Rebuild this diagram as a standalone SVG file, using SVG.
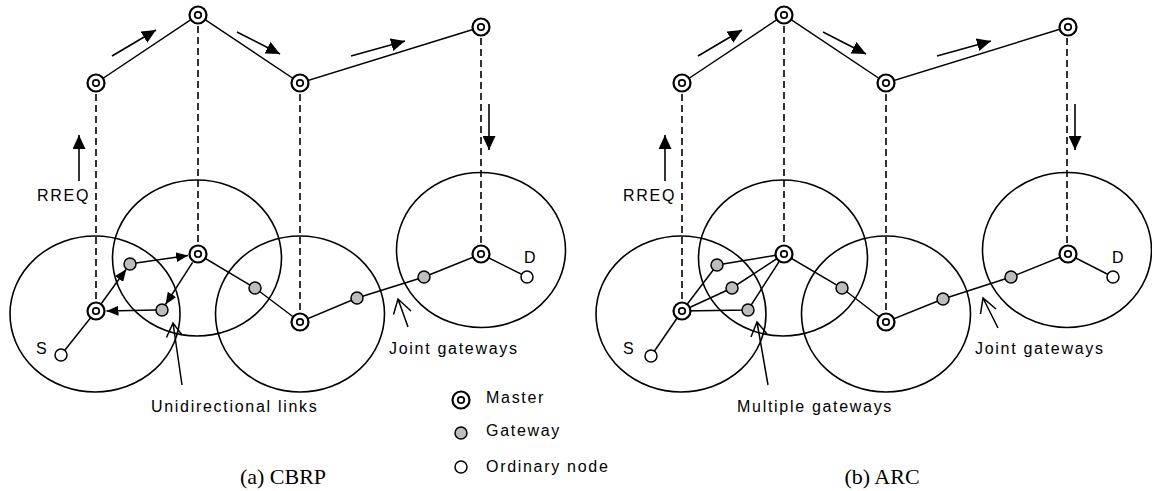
<svg xmlns="http://www.w3.org/2000/svg" width="1152" height="491" viewBox="0 0 1152 491">
<style>
.e{stroke:#000;stroke-width:1.5;fill:none}
.d{stroke:#000;stroke-width:1.6;stroke-dasharray:7 4;fill:none}
.c{stroke:#000;stroke-width:1.6;fill:none}
.a{stroke:#000;stroke-width:1.6;fill:none;marker-end:url(#ah)}
.as{stroke:#000;stroke-width:1.5;fill:none;marker-end:url(#ahs)}
.o{stroke:#000;stroke-width:1.5;fill:none;stroke-linejoin:miter}
.t{font-family:"Liberation Sans",Arial,sans-serif;font-size:16px;letter-spacing:1.7px;fill:#000}
.cap{font-family:"Liberation Serif","Times New Roman",serif;font-size:22px;fill:#000}
.mo{fill:#fff;stroke:#000;stroke-width:2.2}
.mi{fill:#fff;stroke:#000;stroke-width:1.8}
.gw{fill:#bdbdbd;stroke:#000;stroke-width:1.5}
.on{fill:#fff;stroke:#000;stroke-width:1.5}
</style>
<defs>
<marker id="ah" viewBox="0 0 14 13" refX="14" refY="6.5" markerWidth="14" markerHeight="13" markerUnits="userSpaceOnUse" orient="auto"><path d="M0,0 L14,6.5 L0,13 z" fill="#000"/></marker>
<marker id="ahs" viewBox="0 0 12 10" refX="12" refY="5" markerWidth="12" markerHeight="10" markerUnits="userSpaceOnUse" orient="auto"><path d="M0,0 L12,5 L0,10 z" fill="#000"/></marker>
<g id="M"><circle r="8.5" class="mo"/><circle r="3.2" class="mi"/></g>
</defs>

<!-- Panel (a) CBRP -->
<g id="panel-a">
  <g id="a-clusters">
    <ellipse cx="95" cy="314" rx="85" ry="78" class="c"/>
    <ellipse cx="197" cy="258" rx="84.5" ry="78" class="c"/>
    <ellipse cx="300" cy="314" rx="84.5" ry="78" class="c"/>
    <ellipse cx="481" cy="250" rx="84.5" ry="77.5" class="c"/>
  </g>
  <g id="a-connectors">
    <line x1="96" y1="83" x2="96" y2="311" class="d"/>
    <line x1="198" y1="15" x2="198" y2="254" class="d"/>
    <line x1="300" y1="83" x2="300" y2="322" class="d"/>
    <line x1="481" y1="27" x2="481" y2="254" class="d"/>
    <polyline points="96,83 198,15 300,83 481,27" class="e"/>
    <line x1="112" y1="56" x2="156" y2="30" class="a"/>
    <line x1="237" y1="32" x2="280" y2="54" class="a"/>
    <line x1="351" y1="56" x2="405" y2="41" class="a"/>
    <line x1="489" y1="104" x2="489" y2="150" class="a"/>
    <line x1="79" y1="181" x2="79" y2="135" class="a"/>
    <line x1="61" y1="355" x2="96" y2="311" class="e"/>
    <line x1="101" y1="304" x2="126.2" y2="269.3" class="as"/>
    <line x1="136" y1="263" x2="188.1" y2="255.5" class="as"/>
    <line x1="192.6" y1="262.4" x2="165.5" y2="304.5" class="as"/>
    <line x1="156" y1="310" x2="106.5" y2="311" class="as"/>
    <polyline points="198,254 255,288 300,322 357,298 424,277 481,254 527,277" class="e"/>
    <path d="M182,385 L173,323 M166.5,337.5 L173,323 L182,335" class="o"/>
    <path d="M408,327 L398,299 M393.5,314.5 L398,299 L411,311" class="o"/>
  </g>
  <g id="a-m-top1"><use href="#M" x="96" y="83"/></g>
  <g id="a-m-top2"><use href="#M" x="198" y="15"/></g>
  <g id="a-m-top3"><use href="#M" x="300" y="83"/></g>
  <g id="a-m-top4"><use href="#M" x="481" y="27"/></g>
  <g id="a-m1"><use href="#M" x="96" y="311"/></g>
  <g id="a-m2"><use href="#M" x="198" y="254"/></g>
  <g id="a-m3"><use href="#M" x="300" y="322"/></g>
  <g id="a-m4"><use href="#M" x="481" y="254"/></g>
  <g id="a-g1"><circle cx="130" cy="264" r="6" class="gw"/></g>
  <g id="a-g2"><circle cx="162" cy="310" r="6" class="gw"/></g>
  <g id="a-g3"><circle cx="255" cy="288" r="6" class="gw"/></g>
  <g id="a-g4"><circle cx="357" cy="298" r="6" class="gw"/></g>
  <g id="a-g5"><circle cx="424" cy="277" r="6" class="gw"/></g>
  <g id="a-s"><circle cx="61" cy="355" r="6" class="on"/><text x="36" y="354" class="t">S</text></g>
  <g id="a-d"><circle cx="527" cy="277" r="6" class="on"/><text x="524" y="263" class="t">D</text></g>
  <text x="37" y="201" class="t">RREQ</text>
  <text x="151" y="412" class="t">Unidirectional links</text>
  <text x="389" y="354" class="t">Joint gateways</text>
  <text x="283" y="484" class="cap" text-anchor="middle">(a) CBRP</text>
</g>

<!-- Legend -->
<g id="legend">
  <g id="legend-master"><use href="#M" x="461" y="400"/><text x="486" y="403" class="t">Master</text></g>
  <g id="legend-gateway"><circle cx="461" cy="433" r="6" class="gw"/><text x="486" y="436" class="t">Gateway</text></g>
  <g id="legend-ordinary"><circle cx="461" cy="467" r="6" class="on"/><text x="486" y="472" class="t">Ordinary node</text></g>
</g>

<!-- Panel (b) ARC -->
<g id="panel-b" transform="translate(586,0)">
  <g id="b-clusters">
    <ellipse cx="95" cy="314" rx="85" ry="78" class="c"/>
    <ellipse cx="197" cy="258" rx="84.5" ry="78" class="c"/>
    <ellipse cx="300" cy="314" rx="84.5" ry="78" class="c"/>
    <ellipse cx="481" cy="250" rx="84.5" ry="77.5" class="c"/>
  </g>
  <g id="b-connectors">
    <line x1="96" y1="83" x2="96" y2="311" class="d"/>
    <line x1="198" y1="15" x2="198" y2="254" class="d"/>
    <line x1="300" y1="83" x2="300" y2="322" class="d"/>
    <line x1="481" y1="27" x2="481" y2="254" class="d"/>
    <polyline points="96,83 198,15 300,83 481,27" class="e"/>
    <line x1="112" y1="56" x2="156" y2="30" class="a"/>
    <line x1="237" y1="32" x2="280" y2="54" class="a"/>
    <line x1="351" y1="56" x2="405" y2="41" class="a"/>
    <line x1="489" y1="104" x2="489" y2="150" class="a"/>
    <line x1="79" y1="181" x2="79" y2="135" class="a"/>
    <line x1="65" y1="356" x2="96" y2="311" class="e"/>
    <polyline points="96,311 131,265 198,254" class="e"/>
    <polyline points="96,311 146,288 198,254" class="e"/>
    <polyline points="96,311 162,310 198,254" class="e"/>
    <polyline points="198,254 256,288 300,322 357,299 425,277 482,254 527,277" class="e"/>
    <path d="M182,385 L171,322 M165,337 L171,322 L181,334" class="o"/>
    <path d="M412,328 L397,298 M394.5,314 L397,298 L410,309" class="o"/>
  </g>
  <g id="b-m-top1"><use href="#M" x="96" y="83"/></g>
  <g id="b-m-top2"><use href="#M" x="198" y="15"/></g>
  <g id="b-m-top3"><use href="#M" x="300" y="83"/></g>
  <g id="b-m-top4"><use href="#M" x="482" y="27"/></g>
  <g id="b-m1"><use href="#M" x="96" y="311"/></g>
  <g id="b-m2"><use href="#M" x="198" y="254"/></g>
  <g id="b-m3"><use href="#M" x="300" y="322"/></g>
  <g id="b-m4"><use href="#M" x="482" y="254"/></g>
  <g id="b-g1"><circle cx="131" cy="265" r="6" class="gw"/></g>
  <g id="b-g2"><circle cx="146" cy="288" r="6" class="gw"/></g>
  <g id="b-g3"><circle cx="162" cy="310" r="6" class="gw"/></g>
  <g id="b-g4"><circle cx="256" cy="288" r="6" class="gw"/></g>
  <g id="b-g5"><circle cx="357" cy="299" r="6" class="gw"/></g>
  <g id="b-g6"><circle cx="425" cy="277" r="6" class="gw"/></g>
  <g id="b-s"><circle cx="65" cy="356" r="6" class="on"/><text x="37" y="354" class="t">S</text></g>
  <g id="b-d"><circle cx="527" cy="277" r="6" class="on"/><text x="526" y="263" class="t">D</text></g>
  <text x="37" y="201" class="t">RREQ</text>
  <text x="151" y="412" class="t">Multiple gateways</text>
  <text x="389" y="354" class="t">Joint gateways</text>
  <text x="296" y="484" class="cap" text-anchor="middle">(b) ARC</text>
</g>
</svg>
